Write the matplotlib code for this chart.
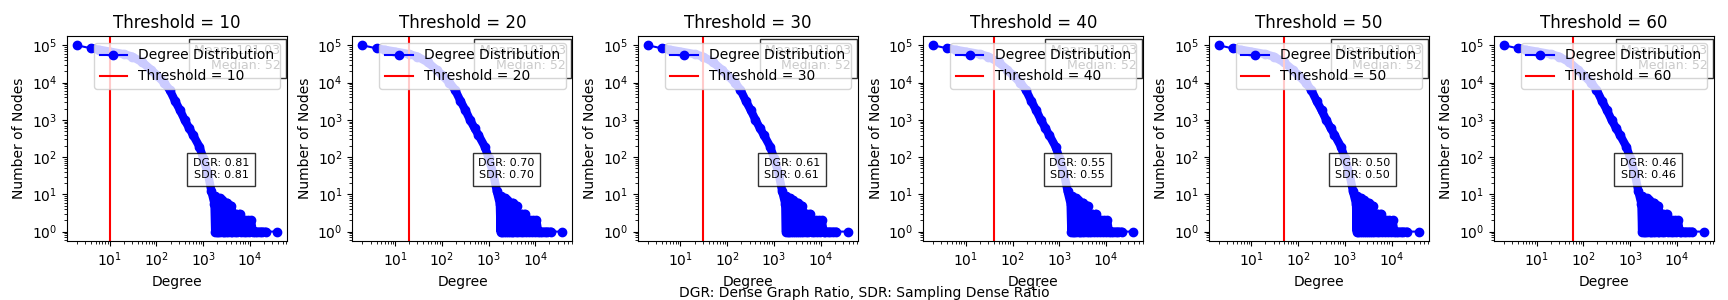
import matplotlib
matplotlib.use("Agg")
import matplotlib.pyplot as plt

thresholds = [10, 20, 30, 40, 50, 60]
dgr_values = [0.81, 0.70, 0.61, 0.55, 0.50, 0.46]
sdr_values = [0.81, 0.70, 0.61, 0.55, 0.50, 0.46]
mean_degree = 101.03
median_degree = 52

# degree distribution (smooth head, then noisy tail)
degrees = [2, 4, 6, 10, 20, 30, 50, 77, 100, 145, 190, 250, 320, 400, 500, 600,
           830, 1000, 1260, 1500, 1740,
           1800, 1830, 1860, 1900, 1950, 2000, 2050, 2100, 2150, 2200, 2250,
           2300, 2380, 2450, 2520, 2600, 2700, 2800, 2900, 3000, 3100, 3250,
           3400, 3550, 3700, 3850, 4000, 4200, 4400, 4600, 4850, 5100, 5400,
           5700, 6000, 6400, 6800, 7300, 7800, 8400, 9000, 9700, 10500,
           11500, 12500, 14000, 16000, 18000, 21500, 38000]
counts = [100000, 83000, 76000, 68000, 58000, 50000, 35000, 22000, 16000, 10000, 6500,
          3200, 1800, 1000, 600, 400,
          190, 95, 36, 12, 5.6,
          1, 9, 2, 7, 1, 8, 3, 1, 6, 2, 8,
          1, 5, 2, 7, 1, 4, 1, 5, 2, 1, 6,
          1, 3, 4, 1, 5, 1, 3, 2, 1, 3, 1,
          2, 3, 1, 2, 1, 2, 1, 2, 1, 2,
          1, 1, 1, 1, 1, 1, 1]

fig, axes = plt.subplots(1, 6, figsize=(17.28, 3.0), dpi=100)
fig.subplots_adjust(left=0.0388, right=0.9919, bottom=0.197, top=0.88, wspace=0.297)

for ax, t, dgr, sdr in zip(axes, thresholds, dgr_values, sdr_values):
    # dense band of overlapping markers in the original
    ax.loglog(degrees[1:-1], counts[1:-1], '-', color='b', lw=6,
              solid_capstyle='round', solid_joinstyle='round')
    ax.loglog(degrees, counts, 'bo-', label='Degree Distribution')
    ax.axvline(t, color='red', label=f'Threshold = {t}')
    ax.set_title(f'Threshold = {t}')
    ax.set_xlabel('Degree')
    ax.set_ylabel('Number of Nodes')
    ax.text(0.97, 0.96, f'Mean: {mean_degree:.2f}\nMedian: {median_degree}',
            transform=ax.transAxes, ha='right', va='top', fontsize=9,
            bbox=dict(facecolor='white', alpha=0.8))
    ax.text(0.70, 0.35, f'DGR: {dgr:.2f}\nSDR: {sdr:.2f}',
            transform=ax.transAxes, ha='center', va='center', fontsize=8,
            bbox=dict(facecolor='white', alpha=0.8))
    ax.legend(loc='upper right')

fig.text(0.5, 0.024, 'DGR: Dense Graph Ratio, SDR: Sampling Dense Ratio',
         ha='center', va='center', fontsize=10)

fig.savefig('out.png', dpi=100)
